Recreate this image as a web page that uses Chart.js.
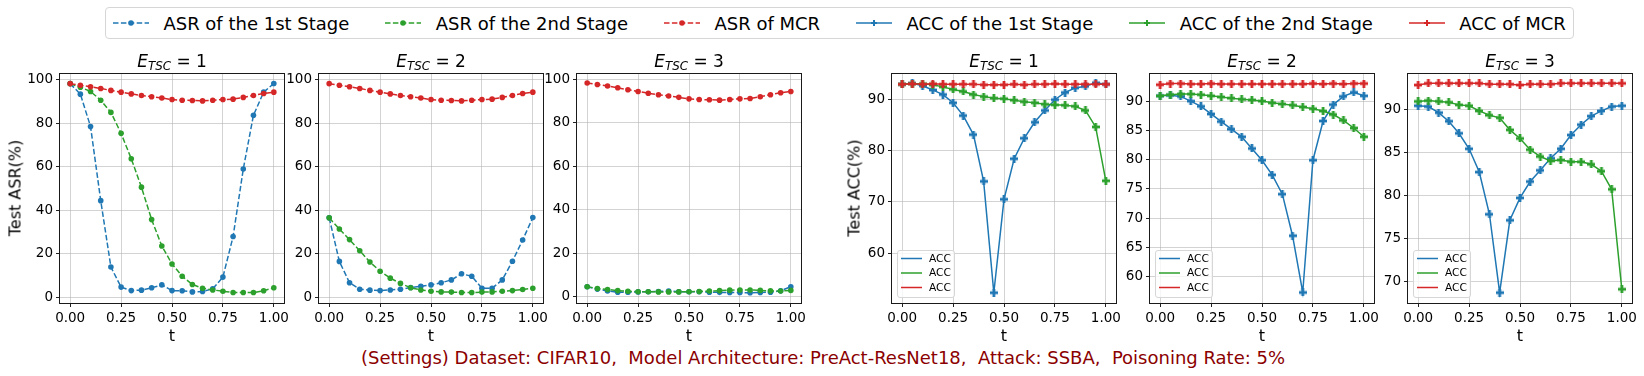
<!DOCTYPE html>
<html>
<head>
<meta charset="utf-8">
<script src="https://cdn.jsdelivr.net/npm/chart.js@4.4.0/dist/chart.umd.min.js"></script>
<style>
  body { margin: 0; width: 1644px; height: 376px; background: #fff; position: relative; overflow: hidden;
         font-family: 'DejaVu Sans', sans-serif; color: #000; }
  canvas { position: absolute; }
  #legend { position: absolute; left: 105px; top: 7px; height: 32px; box-sizing: border-box;
            border: 1px solid #d6d6d6; border-radius: 4px; padding: 0 7px; display: flex; align-items: center;
            font-size: 18px; white-space: nowrap; }
  #legend .item { display: flex; align-items: center; margin-right: 36px; }
  #legend .item:last-child { margin-right: 0; }
  #legend svg { margin-right: 14.4px; }
  .ptitle { position: absolute; top: 51px; line-height: 20px; font-size: 17px; transform: translateX(-50%); white-space: nowrap; }
  .ptitle .sub { font-size: 0.7em; position: relative; top: 3px; font-style: italic; }
  .xlab { position: absolute; top: 327px; line-height: 18px; font-size: 16px; transform: translateX(-50%); }
  .ylab { position: absolute; font-size: 16px; white-space: nowrap; transform: translate(-50%, -50%) rotate(-90deg); }
  #caption { position: absolute; left: 361px; top: 348px; line-height: 20px; font-size: 18px; color: #8b0000; white-space: pre; }
</style>
</head>
<body>
<div id="legend"></div>
<canvas id="c0"></canvas><canvas id="c1"></canvas><canvas id="c2"></canvas>
<canvas id="c3"></canvas><canvas id="c4"></canvas><canvas id="c5"></canvas>
<div class="ylab" style="left:15px; top:188px">Test ASR(%)</div>
<div class="ylab" style="left:854px; top:188px">Test ACC(%)</div>
<div id="caption">(Settings) Dataset: CIFAR10,  Model Architecture: PreAct-ResNet18,  Attack: SSBA,  Poisoning Rate: 5%</div>
<script>
// t values (x axis) and tick labels
const tValues = [0, 0.05, 0.1, 0.15, 0.2, 0.25, 0.3, 0.35, 0.4, 0.45, 0.5, 0.55, 0.6, 0.65, 0.7, 0.75, 0.8, 0.85, 0.9, 0.95, 1.0];
const xTicks = [0, 0.25, 0.5, 0.75, 1.0];
const asrTicks = [0, 20, 40, 60, 80, 100];
const acc1Ticks = [60, 70, 80, 90];
const acc2Ticks = [60, 65, 70, 75, 80, 85, 90];
const acc3Ticks = [70, 75, 80, 85, 90];
const tscValues = [1, 2, 3];

const legendLabels = ['ASR of the 1st Stage', 'ASR of the 2nd Stage', 'ASR of MCR',
                      'ACC of the 1st Stage', 'ACC of the 2nd Stage', 'ACC of MCR'];
const innerLabel = 'ACC';

// ASR, E_TSC = 1
const asr1Stage1 = [98.2, 93.4, 78.5, 44.5, 14.0, 4.8, 3.2, 3.4, 4.5, 5.8, 3.2, 3.1, 2.6, 2.8, 4.0, 9.4, 28.0, 59.0, 83.7, 94.3, 98.3];
const asr1Stage2 = [98.2, 96.6, 94.6, 90.6, 85.0, 75.4, 63.7, 50.7, 35.8, 23.7, 15.4, 9.8, 6.0, 4.3, 3.5, 2.9, 2.3, 2.3, 2.3, 3.1, 4.5];
const asr1Mcr    = [98.2, 97.5, 96.8, 96.0, 95.1, 94.3, 93.5, 92.8, 92.2, 91.6, 90.9, 90.6, 90.5, 90.3, 90.6, 90.9, 91.1, 91.9, 92.8, 93.7, 94.3];
// ASR, E_TSC = 2
const asr2Stage1 = [36.6, 16.6, 6.8, 3.8, 3.4, 3.2, 3.5, 3.8, 4.6, 5.2, 5.8, 6.8, 8.1, 10.9, 9.8, 4.3, 4.3, 8.1, 16.7, 26.4, 36.7];
const asr2Stage2 = [36.6, 31.5, 26.6, 21.5, 16.3, 12.1, 8.9, 6.5, 4.5, 3.5, 2.9, 2.6, 2.5, 2.3, 2.3, 2.5, 2.6, 2.9, 3.2, 3.7, 4.3];
const asr2Mcr    = [98.2, 97.5, 96.8, 96.0, 95.1, 94.3, 93.5, 92.8, 92.2, 91.6, 90.9, 90.6, 90.5, 90.3, 90.6, 90.9, 91.1, 91.9, 92.8, 93.7, 94.3];
// ASR, E_TSC = 3
const asr3Stage1 = [4.5, 3.4, 2.5, 2.0, 2.0, 2.1, 2.2, 2.3, 2.5, 2.2, 2.2, 2.2, 2.0, 1.9, 1.8, 1.8, 1.7, 1.8, 2.0, 2.6, 4.5];
const asr3Stage2 = [4.5, 3.7, 3.2, 2.7, 2.4, 2.2, 2.2, 2.1, 2.1, 2.1, 2.2, 2.3, 2.5, 2.7, 2.9, 3.0, 3.0, 2.8, 2.6, 2.5, 2.8];
const asr3Mcr    = [98.2, 97.5, 96.8, 96.0, 95.1, 94.3, 93.5, 92.8, 92.2, 91.6, 90.9, 90.6, 90.5, 90.3, 90.6, 90.9, 91.1, 91.9, 92.8, 93.7, 94.3];

// ACC, E_TSC = 1
const acc1Stage1 = [92.9, 93.1, 92.6, 91.8, 90.9, 89.3, 86.8, 83.1, 74.0, 52.3, 70.5, 78.4, 82.4, 85.5, 87.8, 89.9, 91.3, 92.2, 92.5, 93.2, 92.9];
const acc1Stage2 = [92.9, 93.0, 93.0, 92.8, 92.4, 91.9, 91.5, 90.9, 90.5, 90.2, 90.1, 89.8, 89.5, 89.3, 89.0, 88.9, 88.8, 88.6, 87.8, 84.6, 74.1];
const acc1Mcr    = [92.9, 93.0, 92.9, 93.0, 92.9, 92.9, 92.9, 92.9, 92.8, 92.8, 92.8, 92.9, 92.8, 92.9, 92.9, 93.0, 92.9, 92.9, 92.9, 92.9, 92.9];
// ACC, E_TSC = 2
const acc2Stage1 = [90.9, 91.0, 90.8, 90.0, 89.1, 87.8, 86.5, 85.2, 83.9, 81.9, 79.9, 77.4, 74.1, 67.0, 57.3, 79.9, 86.6, 89.4, 90.8, 91.5, 90.9];
const acc2Stage2 = [90.9, 91.1, 91.2, 91.2, 91.1, 90.9, 90.7, 90.5, 90.3, 90.2, 90.0, 89.7, 89.5, 89.3, 89.0, 88.7, 88.3, 87.7, 86.7, 85.4, 83.9];
const acc2Mcr    = [92.8, 93.0, 93.0, 92.9, 92.9, 93.0, 92.9, 92.9, 92.9, 92.9, 92.9, 92.9, 92.9, 92.9, 92.9, 93.0, 92.9, 93.0, 92.9, 93.0, 93.0];
// ACC, E_TSC = 3
const acc3Stage1 = [90.4, 90.3, 89.6, 88.6, 87.2, 85.4, 82.7, 77.8, 68.7, 77.1, 79.7, 81.6, 82.9, 84.3, 85.4, 87.0, 88.2, 89.2, 89.8, 90.3, 90.4];
const acc3Stage2 = [90.9, 91.0, 90.9, 90.8, 90.5, 90.4, 89.8, 89.3, 89.0, 87.6, 86.6, 85.3, 84.5, 84.0, 84.1, 83.9, 83.9, 83.6, 82.8, 80.7, 69.1];
const acc3Mcr    = [92.8, 93.0, 93.0, 93.0, 93.0, 93.0, 93.0, 92.9, 92.9, 92.9, 92.8, 92.9, 92.9, 92.9, 93.0, 93.0, 93.0, 93.0, 93.0, 93.0, 93.0];

const BLUE = '#1f77b4', GREEN = '#2ca02c', RED = '#d62728';
const GRID = 'rgba(176,176,176,0.7)';
const DASH = [5.5, 2.4];

// layout of the axes boxes (px)
const plotLeft = [60, 319, 577, 892, 1150, 1408];
const AX_TOP = 73, AX_H = 230, AX_W = 224;
const Y_W = 50, PAD_T = 12, PAD_R = 12, X_H = 30;

Chart.defaults.font.family = "'DejaVu Sans', sans-serif";
Chart.defaults.color = '#000';

// filled plus marker (matplotlib 'P')
function plusMarker(color) {
  const c = document.createElement('canvas');
  c.width = 8; c.height = 8;
  const g = c.getContext('2d');
  g.fillStyle = color;
  g.fillRect(0, 2.6, 8, 2.8);
  g.fillRect(2.6, 0, 2.8, 8);
  return c;
}
const plus = { [BLUE]: plusMarker(BLUE), [GREEN]: plusMarker(GREEN), [RED]: plusMarker(RED) };

// top legend
const legendEl = document.getElementById('legend');
const legendColors = [BLUE, GREEN, RED, BLUE, GREEN, RED];
legendLabels.forEach((lab, i) => {
  const c = legendColors[i];
  const dashed = i < 3;
  const marker = dashed
    ? `<circle cx="18" cy="6" r="2.8" fill="${c}"/>`
    : `<path d="M15 5h2v-2h2v2h2v2h-2v2h-2v-2h-2z" fill="${c}"/>`;
  legendEl.insertAdjacentHTML('beforeend',
    `<div class="item"><svg width="36" height="12"><line x1="0" y1="6" x2="36" y2="6" stroke="${c}" stroke-width="1.5"` +
    (dashed ? ` stroke-dasharray="${DASH.join(' ')}"` : '') + `/>${marker}</svg><span>${lab}</span></div>`);
});

// titles and x labels
plotLeft.forEach((l, i) => {
  const cx = l + AX_W / 2;
  document.body.insertAdjacentHTML('beforeend',
    `<div class="ptitle" style="left:${cx}px"><i>E</i><span class="sub">TSC</span> = ${tscValues[i % 3]}</div>` +
    `<div class="xlab" style="left:${cx}px">t</div>`);
});

// axes frame
const frame = {
  id: 'frame',
  afterDatasetsDraw(chart) {
    const a = chart.chartArea, ctx = chart.ctx;
    ctx.save();
    ctx.strokeStyle = '#1a1a1a';
    ctx.lineWidth = 1;
    ctx.strokeRect(a.left - 0.5, a.top + 0.5, a.width + 1, a.height);
    ctx.restore();
  }
};

// small "ACC" legend inside the ACC plots
const accLegend = {
  id: 'accLegend',
  afterDatasetsDraw(chart, args, opts) {
    if (!opts.show) return;
    const a = chart.chartArea, ctx = chart.ctx;
    const x = a.left + 5, y = a.bottom - 6 - 47;
    ctx.save();
    ctx.fillStyle = 'rgba(255,255,255,0.8)';
    ctx.strokeStyle = '#d6d6d6';
    ctx.lineWidth = 1;
    ctx.beginPath();
    ctx.roundRect(x + 0.5, y + 0.5, 57, 47, 2.5);
    ctx.fill();
    ctx.stroke();
    ctx.font = "10.6px 'DejaVu Sans'";
    ctx.textBaseline = 'middle';
    chart.data.datasets.forEach((ds, i) => {
      const ry = y + 8.5 + i * 14.5;
      ctx.strokeStyle = ds.borderColor;
      ctx.lineWidth = 1.5;
      ctx.beginPath(); ctx.moveTo(x + 4, ry); ctx.lineTo(x + 25, ry); ctx.stroke();
      ctx.fillStyle = '#000';
      ctx.fillText(ds.label, x + 32, ry + 0.5);
    });
    ctx.restore();
  }
};

function asrSet(values, color, order) {
  return {
    label: 'ASR', data: tValues.map((t, i) => ({ x: t, y: values[i] })), order: order,
    borderColor: color, backgroundColor: color, borderWidth: 1.5, borderDash: DASH,
    pointRadius: 2.8, pointBorderWidth: 0, pointBackgroundColor: color, tension: 0, fill: false
  };
}

function accSet(values, color, order) {
  return {
    label: innerLabel, data: tValues.map((t, i) => ({ x: t, y: values[i] })), order: order,
    borderColor: color, backgroundColor: color, borderWidth: 1.5,
    pointStyle: plus[color], pointRadius: 4, tension: 0, fill: false
  };
}

function makeChart(idx, sets, yMin, yMax, yTicks, inner) {
  const cv = document.getElementById('c' + idx);
  cv.width = Y_W + AX_W + PAD_R;
  cv.height = PAD_T + AX_H + X_H;
  cv.style.left = (plotLeft[idx] - Y_W) + 'px';
  cv.style.top = (AX_TOP - PAD_T) + 'px';
  const grid = { color: GRID, lineWidth: 0.8, tickColor: '#222', tickLength: 4, tickWidth: 1 };
  return new Chart(cv, {
    type: 'line',
    data: { datasets: sets },
    options: {
      responsive: false, animation: false, devicePixelRatio: 1,
      layout: { padding: { top: PAD_T, right: PAD_R, left: 0, bottom: 0 } },
      plugins: { legend: { display: false }, tooltip: { enabled: false }, accLegend: { show: inner } },
      scales: {
        x: {
          type: 'linear', min: -0.05, max: 1.05,
          afterBuildTicks: s => { s.ticks = xTicks.map(v => ({ value: v })); },
          afterFit: s => { s.height = X_H; },
          ticks: { callback: v => v.toFixed(2), font: { size: 13.5 }, padding: 3, maxRotation: 0, autoSkip: false },
          grid: grid, border: { display: false }
        },
        y: {
          min: yMin, max: yMax,
          afterBuildTicks: s => { s.ticks = yTicks.map(v => ({ value: v })); },
          afterFit: s => { s.width = Y_W; },
          ticks: { font: { size: 13.5 }, padding: 3, autoSkip: false },
          grid: grid, border: { display: false }
        }
      }
    },
    plugins: [frame, accLegend]
  });
}

makeChart(0, [asrSet(asr1Stage1, BLUE, 3), asrSet(asr1Stage2, GREEN, 2), asrSet(asr1Mcr, RED, 1)], -2.5, 103.1, asrTicks, false);
makeChart(1, [asrSet(asr2Stage1, BLUE, 3), asrSet(asr2Stage2, GREEN, 2), asrSet(asr2Mcr, RED, 1)], -2.5, 103.1, asrTicks, false);
makeChart(2, [asrSet(asr3Stage1, BLUE, 3), asrSet(asr3Stage2, GREEN, 2), asrSet(asr3Mcr, RED, 1)], -3.0, 102.8, asrTicks, false);
makeChart(3, [accSet(acc1Stage1, BLUE, 3), accSet(acc1Stage2, GREEN, 2), accSet(acc1Mcr, RED, 1)], 50.3, 95.1, acc1Ticks, true);
makeChart(4, [accSet(acc2Stage1, BLUE, 3), accSet(acc2Stage2, GREEN, 2), accSet(acc2Mcr, RED, 1)], 55.5, 94.8, acc2Ticks, true);
makeChart(5, [accSet(acc3Stage1, BLUE, 3), accSet(acc3Stage2, GREEN, 2), accSet(acc3Mcr, RED, 1)], 67.5, 94.2, acc3Ticks, true);
</script>
</body>
</html>
